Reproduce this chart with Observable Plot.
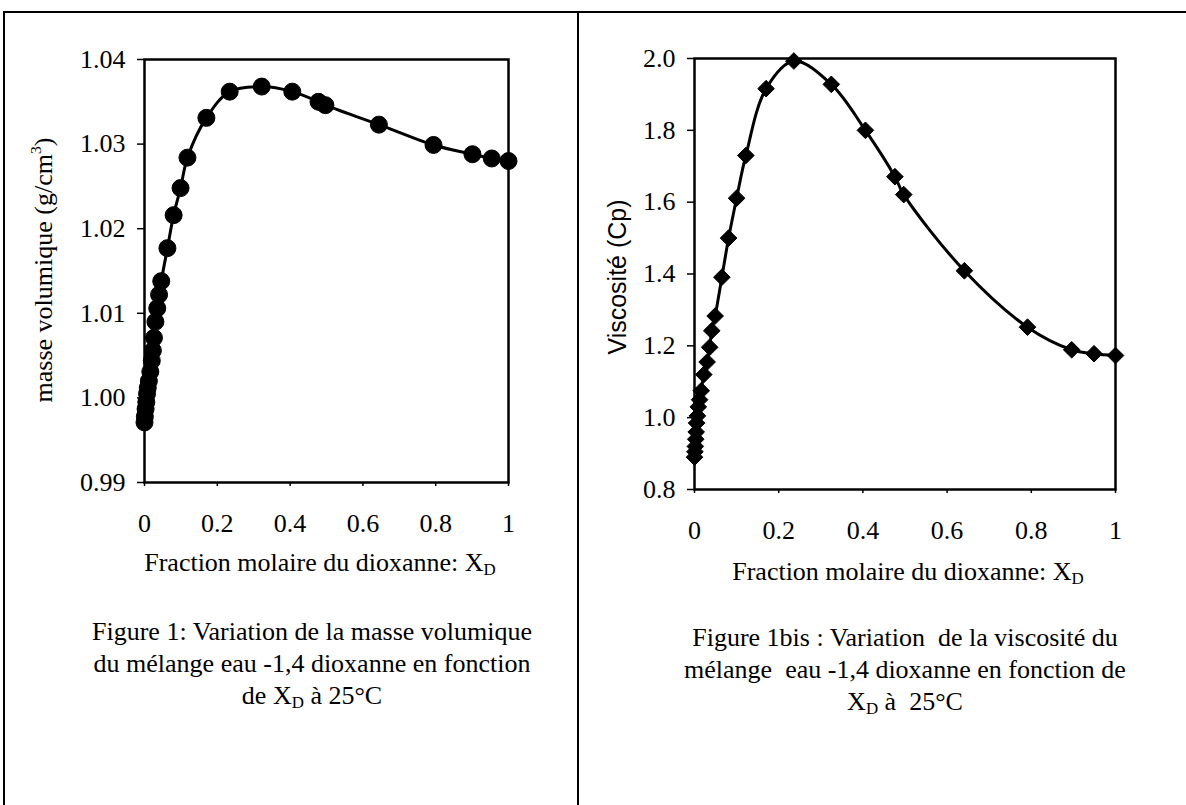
<!DOCTYPE html>
<html><head><meta charset="utf-8">
<script src="https://cdn.jsdelivr.net/npm/d3@7"></script>
<script src="https://cdn.jsdelivr.net/npm/@observablehq/plot@0.6"></script>
<style>
body{margin:0;background:#fff;}
#page{position:relative;width:1186px;height:805px;background:#fff;overflow:hidden;font-family:"Liberation Serif","Times New Roman",serif;color:#000;}
.ln{position:absolute;background:#000;}
.t{position:absolute;white-space:nowrap;transform:translate(-50%,-50%);font-size:26px;line-height:1;}
.cap{position:absolute;text-align:center;font-size:26px;line-height:32px;transform:translateX(-50%);white-space:nowrap;}
.rot{transform:translate(-50%,-50%) rotate(-90deg);}
sub{font-size:0.65em;vertical-align:-0.25em;line-height:0;}
sup{font-size:0.6em;vertical-align:0.7em;line-height:0;}
.plot{position:absolute;top:0;}
</style></head>
<body>
<div id="page">
  <div class="ln" style="left:3px;top:11px;width:1183px;height:2px"></div>
  <div class="ln" style="left:3px;top:11px;width:2px;height:794px"></div>
  <div class="ln" style="left:577px;top:11px;width:2px;height:794px"></div>
  <div id="p1" class="plot" style="left:0px"></div>
  <div id="p2" class="plot" style="left:578px"></div>
  <div class="t rot" style="left:44px;top:270px">masse volumique (g/cm<sup>3</sup>)</div>
  <div class="t rot" style="left:617px;top:277px;font-family:'Liberation Sans',Arial,sans-serif;font-size:25px">Viscosité (Cp)</div>
  <div class="t" style="left:320px;top:563px">Fraction molaire du dioxanne: X<sub>D</sub></div>
  <div class="t" style="left:908px;top:572px">Fraction molaire du dioxanne: X<sub>D</sub></div>
  <div class="cap" style="left:312px;top:616px">Figure 1: Variation de la masse volumique<br>du mélange eau -1,4 dioxanne en fonction<br>de X<sub>D</sub> à 25°C</div>
  <div class="cap" style="left:905px;top:622px">Figure 1bis : Variation&nbsp; de la viscosité du<br>mélange&nbsp; eau -1,4 dioxanne en fonction de<br>X<sub>D</sub> à&nbsp; 25°C</div>
</div>
<script>
// Figure 1: density vs mole fraction of dioxane
const xD_rho = [0, 0.001, 0.003, 0.005, 0.007, 0.009, 0.012, 0.016, 0.020, 0.023, 0.026, 0.030, 0.035, 0.040, 0.046, 0.063, 0.080, 0.099, 0.118, 0.170, 0.234, 0.322, 0.406, 0.478, 0.497, 0.644, 0.794, 0.901, 0.954, 1.0];
const rho = [0.9971, 0.9978, 0.9987, 0.9995, 1.0005, 1.0012, 1.0020, 1.0031, 1.0044, 1.0056, 1.0071, 1.0090, 1.0106, 1.0122, 1.0138, 1.0177, 1.0216, 1.0248, 1.0284, 1.0331, 1.0362, 1.0368, 1.0362, 1.0350, 1.0346, 1.0323, 1.0299, 1.0288, 1.0283, 1.0280];
// Figure 1bis: viscosity vs mole fraction of dioxane
const xD_eta = [0, 0.001, 0.002, 0.003, 0.004, 0.005, 0.007, 0.009, 0.012, 0.016, 0.022, 0.030, 0.036, 0.041, 0.049, 0.065, 0.081, 0.100, 0.122, 0.170, 0.236, 0.325, 0.406, 0.476, 0.497, 0.641, 0.791, 0.896, 0.949, 1.0];
const eta = [0.890, 0.905, 0.920, 0.940, 0.960, 0.985, 1.005, 1.030, 1.050, 1.075, 1.120, 1.155, 1.196, 1.242, 1.283, 1.391, 1.500, 1.611, 1.730, 1.916, 1.993, 1.928, 1.800, 1.671, 1.621, 1.409, 1.252, 1.189, 1.178, 1.173];
// tick values
const xTicks = [0, 0.2, 0.4, 0.6, 0.8, 1];
const rhoTicks = [0.99, 1.00, 1.01, 1.02, 1.03, 1.04];
const etaTicks = [0.8, 1.0, 1.2, 1.4, 1.6, 1.8, 2.0];

const d1 = xD_rho.map((x, i) => ({x, y: rho[i]}));
const d2 = xD_eta.map((x, i) => ({x, y: eta[i]}));
const xFmt = d => String(+d.toFixed(1));
const style = {fontFamily: "'Liberation Serif','Times New Roman',serif", fontSize: "26px", background: "transparent", overflow: "visible"};

const p1 = Plot.plot({
  width: 578, height: 560,
  marginLeft: 144, marginRight: 70, marginTop: 59, marginBottom: 78,
  style,
  x: {domain: [0, 1]},
  y: {domain: [0.99, 1.04]},
  marks: [
    Plot.axisX({ticks: xTicks, tickFormat: xFmt, tickSize: 4, tickPadding: 27, label: null, strokeWidth: 1.5}),
    Plot.axisY({ticks: rhoTicks, tickFormat: d3.format(".2f"), tickSize: 7, tickPadding: 12, label: null, strokeWidth: 1.5}),
    Plot.frame({stroke: "#000", strokeWidth: 2.5}),
    Plot.line(d1, {x: "x", y: "y", stroke: "#000", strokeWidth: 3, curve: "catmull-rom"}),
    Plot.dot(d1, {x: "x", y: "y", r: 8.5, fill: "#000", stroke: "#000", strokeWidth: 1})
  ]
});
document.getElementById("p1").appendChild(p1);

const p2 = Plot.plot({
  width: 608, height: 560,
  marginLeft: 116, marginRight: 71, marginTop: 58, marginBottom: 71,
  style,
  x: {domain: [0, 1]},
  y: {domain: [0.8, 2.0]},
  marks: [
    Plot.axisX({ticks: xTicks, tickFormat: xFmt, tickSize: 4, tickPadding: 27, label: null, strokeWidth: 1.5}),
    Plot.axisY({ticks: etaTicks, tickFormat: d3.format(".1f"), tickSize: 7, tickPadding: 12, label: null, strokeWidth: 1.5}),
    Plot.frame({stroke: "#000", strokeWidth: 2.5}),
    Plot.line(d2, {x: "x", y: "y", stroke: "#000", strokeWidth: 3, curve: "catmull-rom"}),
    Plot.dot(d2, {x: "x", y: "y", r: 7.5, symbol: "diamond2", fill: "#000", stroke: "#000", strokeWidth: 1})
  ]
});
document.getElementById("p2").appendChild(p2);
</script>
</body></html>
